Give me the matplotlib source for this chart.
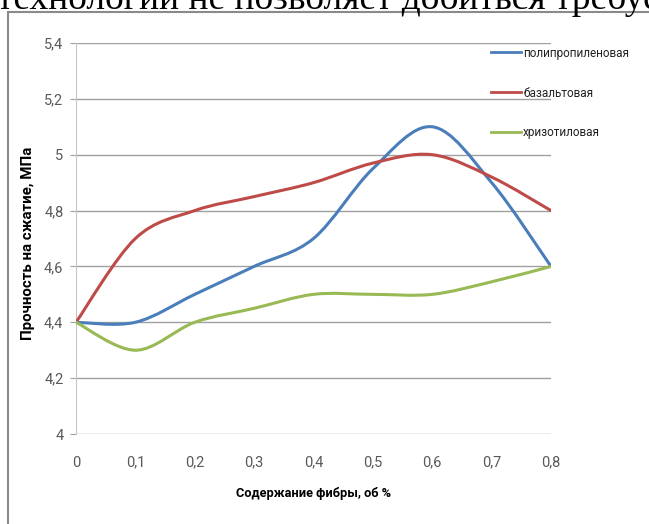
import numpy as np
import matplotlib
matplotlib.use('Agg')
import matplotlib.pyplot as plt
from matplotlib.path import Path
from matplotlib.patches import PathPatch
from matplotlib.lines import Line2D

# fibre content, % by volume
fibre = [0, 0.1, 0.2, 0.3, 0.4, 0.5, 0.6, 0.7, 0.8]
# compressive strength, MPa
polypropylene = [4.4, 4.4, 4.5, 4.6, 4.7, 4.95, 5.1, 4.9, 4.6]
basalt = [4.4, 4.7, 4.8, 4.85, 4.9, 4.97, 5.0, 4.92, 4.8]
chrysotile = [4.4, 4.3, 4.4, 4.45, 4.5, 4.5, 4.5, 4.545, 4.6]

labels = ['полипропиленовая', 'базальтовая', 'хризотиловая']
colors = ['#4a7ebb', '#be4b48', '#98b954']
xticks = [0, 0.1, 0.2, 0.3, 0.4, 0.5, 0.6, 0.7, 0.8]
xtick_labels = ['0', '0,1', '0,2', '0,3', '0,4', '0,5', '0,6', '0,7', '0,8']
yticks = [4, 4.2, 4.4, 4.6, 4.8, 5, 5.2, 5.4]
ytick_labels = ['4', '4,2', '4,4', '4,6', '4,8', '5', '5,2', '5,4']

sans = ['Roboto', 'DejaVu Sans']


def smooth_path(xs, ys):
    # excel-like smoothed line: cubic bezier through every point
    pts = np.column_stack([xs, ys]).astype(float)
    n = len(pts)
    verts = [pts[0]]
    codes = [Path.MOVETO]
    for i in range(n - 1):
        p0 = pts[i - 1] if i > 0 else pts[i]
        p1 = pts[i]
        p2 = pts[i + 1]
        p3 = pts[i + 2] if i + 2 < n else pts[i + 1]
        c1 = p1 + (p2 - p0) / 6.0
        c2 = p2 - (p3 - p1) / 6.0
        verts += [c1, c2, p2]
        codes += [Path.CURVE4] * 3
    return Path(verts, codes)


fig = plt.figure(figsize=(6.49, 5.24), dpi=100)
ax = fig.add_axes([76 / 649, 1 - 434 / 524, 475 / 649, 391 / 524])

for ys, lab, col in zip([polypropylene, basalt, chrysotile], labels, colors):
    patch = PathPatch(smooth_path(fibre, ys), facecolor='none', edgecolor=col,
                      lw=2.2, capstyle='round', joinstyle='round', zorder=3)
    ax.add_patch(patch)
    ax.plot([], [], color=col, lw=2.0, label=lab)

ax.set_xlim(0, 0.8)
ax.set_ylim(4, 5.4)
ax.set_xticks(xticks)
ax.set_xticklabels(xtick_labels)
ax.set_yticks(yticks)
ax.set_yticklabels(ytick_labels)
ax.grid(axis='y', color='#a0a0a0', lw=1)
ax.set_axisbelow(True)
for s in ['top', 'right', 'bottom']:
    ax.spines[s].set_visible(False)
ax.spines['left'].set_color('#c8c8c8')
ax.tick_params(axis='y', length=4, color='#a0a0a0', pad=5, labelsize=10.5, labelcolor='#595959')
ax.tick_params(axis='x', length=0, pad=15.5, labelsize=10.5, labelcolor='#595959')
for t in ax.get_xticklabels() + ax.get_yticklabels():
    t.set_family(sans)

ax.set_xlabel('Содержание фибры, об %', family=sans, fontweight='bold', fontsize=9.2,
              va='center')
ax.set_ylabel('Прочность на сжатие, МПа', family=sans, fontweight='bold', fontsize=10.8,
              va='center')
ax.xaxis.set_label_coords(0.5, (434 - 494) / 391)
ax.yaxis.set_label_coords((28 - 76) / 475, (434 - 243) / 391)

leg = ax.legend(loc='upper left', bbox_to_anchor=(480 / 649, 1 - 36 / 524),
                bbox_transform=fig.transFigure, frameon=False, handlelength=2.6,
                handletextpad=0.15, labelspacing=2.28, prop={'family': sans, 'size': 8.5})
for t in leg.get_texts():
    t.set_color('#222222')

# page frame and clipped line of document text
fig.add_artist(Line2D([8 / 649, 8 / 649], [0, 1 - 11.5 / 524], transform=fig.transFigure,
                      color='#8a8a8a', lw=1.5))
fig.add_artist(Line2D([8 / 649, 1], [1 - 11.5 / 524, 1 - 11.5 / 524],
                      transform=fig.transFigure, color='#8a8a8a', lw=1.5))
fig.text(-3 / 649, 1 - 9 / 524, 'технологии не позволяет добиться требуемой',
         family='Liberation Serif', fontsize=27, va='baseline', ha='left', color='black')

fig.savefig('out.png', dpi=100)
